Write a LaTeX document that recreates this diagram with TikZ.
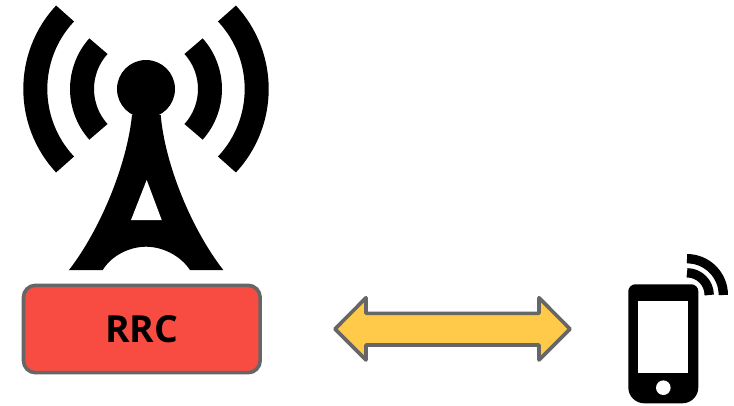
\documentclass[tikz,border=0pt]{standalone}
\usepackage{fontspec}
\setmainfont{Open Sans}
\definecolor{edgegray}{HTML}{666666}
\definecolor{rrcred}{HTML}{F84C42}
\definecolor{arrowyellow}{HTML}{FFC94A}
\tikzset{
	rrcbox/.style={draw=edgegray,line width=2.7pt,fill=rrcred,rounded corners=9pt,minimum width=177.5pt,minimum height=65.5pt,inner sep=0pt,font=\fontsize{28}{28}\selectfont\bfseries},
	blockarrow/.style={draw=edgegray,line width=2.7pt,fill=arrowyellow,line join=round},
	wave/.style={draw=black,line cap=butt}
}
\begin{document}
\begin{tikzpicture}[x=.75pt,y=.75pt,line join=round]
	\useasboundingbox (0,0) rectangle (734,405);
	\path
	(146,316) coordinate (T)
	(687,110) coordinate (W)
	(335,76) coordinate (L)
	(570,76) coordinate (R);
	% tower
	\fill (T) circle (29);
	\fill (132,290) .. controls (127,240) and (100,175) .. (69,135) -- (102.7,135)
	.. controls (112,150) and (130,158.3) .. (146,158.3)
	.. controls (162,158.3) and (180,150) .. (190,135) -- (223.3,135)
	.. controls (192,175) and (165,240) .. (160.7,290) -- cycle;
	\fill[white] (146.7,225) -- (131,185) -- (161.7,185) -- cycle;
	\foreach \r/\a in {110.7/137, 64/138}
	{
		\draw[wave,line width=18pt] (T) ++(\a:\r) arc (\a:360-\a:\r);
		\draw[wave,line width=18pt] (T) ++(180-\a:\r) arc (180-\a:\a-180:\r);
	}
	% box and arrow
	\node[rrcbox] (rrc) at (141.8,76) {\raisebox{-1pt}{RRC}};
	\draw[blockarrow] (L) -- (366,107.3) -- (366,91.7) -- (539,91.7) -- (539,107.3)
	-- (R) -- (539,45) -- (539,60) -- (366,60) -- (366,45) -- cycle;
	% phone
	\fill (628.3,113.7) arc (180:90:7) -- (691.3,120.7) arc (90:0:7) -- (698.3,17.7)
	arc (0:-90:16) -- (644.3,1.7) arc (-90:-180:16) -- cycle;
	\fill[white] (638.3,31.7) rectangle (688.3,104);
	\fill[white] (663.3,17.3) circle (7.3);
	\foreach \r in {36.3,22.2}
	\draw[wave,line width=7pt] (W) ++(90:\r) arc (90:0:\r);
\end{tikzpicture}
\end{document}
